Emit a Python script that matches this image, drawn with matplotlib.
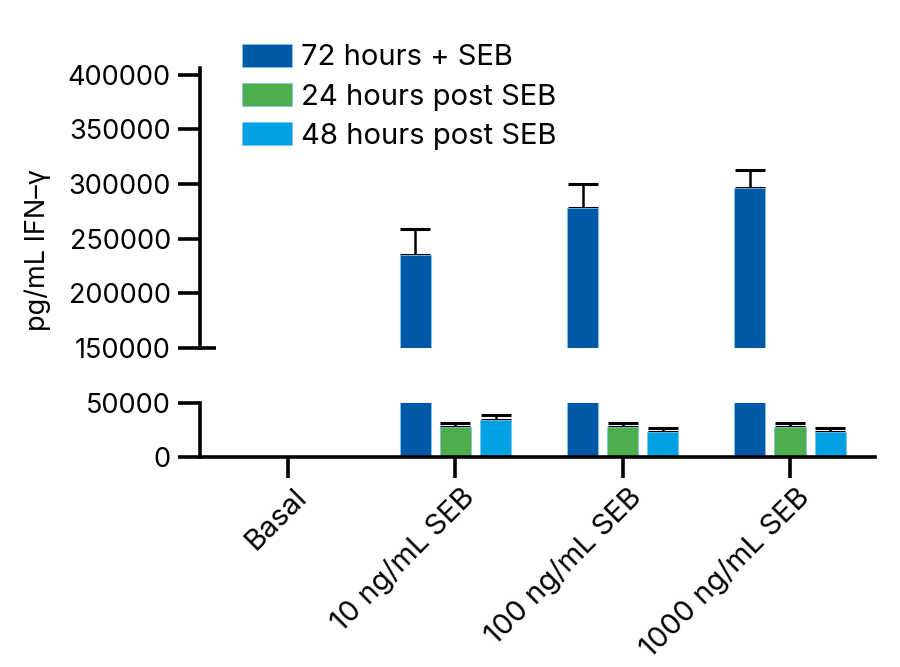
import numpy as np
import matplotlib
matplotlib.use("Agg")
import matplotlib.pyplot as plt
import matplotlib.transforms as mtransforms
from matplotlib.patches import Patch

plt.rcParams['font.family'] = ['Inter', 'DejaVu Sans']

# data
cats = ['Basal', '10 ng/mL SEB', '100 ng/mL SEB', '1000 ng/mL SEB']
h72 = [0, 235000, 278000, 296500]
h72_err = [0, 24000, 22300, 16000]
h24 = [0, 27500, 27500, 27500]
h24_err = [0, 3700, 3700, 3700]
h48 = [0, 34000, 23400, 23400]
h48_err = [0, 4600, 3500, 3500]
series_names = ['72 hours + SEB', '24 hours post SEB', '48 hours post SEB']

c72 = '#0058A6'
c24 = '#4CAE4C'
c48 = '#00A1E2'
edge = '#7FC4EE'

fig = plt.figure(figsize=(9, 6.67), dpi=100)
ax_bot = fig.add_axes([200/900, 1-457/667, 675/900, 54/667])
ax_top = fig.add_axes([200/900, 1-348/667, 675/900, (348-67.7)/667])

x = np.arange(len(cats))
off = 0.24
w = 0.186
lw = 2.6

for ax in (ax_bot, ax_top):
    ax.bar(x - off, h72, w, color=c72, edgecolor=edge, linewidth=0.6, zorder=2)
    ax.bar(x, h24, w, color=c24, edgecolor=edge, linewidth=0.6, zorder=2)
    ax.bar(x + off, h48, w, color=c48, edgecolor=edge, linewidth=0.6, zorder=2)
    for xs, vals, errs in ((x - off, h72, h72_err), (x, h24, h24_err), (x + off, h48, h48_err)):
        ax.errorbar(xs[1:], vals[1:], yerr=[np.zeros(3), errs[1:]], fmt='none',
                    ecolor='black', elinewidth=1.8, capsize=11, capthick=2.2, zorder=1)
    ax.set_xlim(-0.526, 3.508)
    for s in ('top', 'right'):
        ax.spines[s].set_visible(False)
    ax.spines['left'].set_linewidth(lw)
    ax.tick_params(axis='y', length=16, width=lw, labelsize=19.5, pad=5)

# bottom panel
ax_bot.set_ylim(0, 50000)
ax_bot.set_yticks([0, 50000])
ax_bot.spines['bottom'].set_linewidth(lw)
ax_bot.set_xticks(x)
ax_bot.set_xticklabels(cats, rotation=45, ha='right', va='center', rotation_mode='anchor')
ax_bot.tick_params(axis='x', length=15, width=lw, labelsize=21, pad=9)
shift = mtransforms.ScaledTranslation(15/100, -3/100, fig.dpi_scale_trans)
for lab in ax_bot.get_xticklabels():
    lab.set_transform(lab.get_transform() + shift)

# top panel
ax_top.set_ylim(150000, 406500)
ax_top.set_yticks([150000, 200000, 250000, 300000, 350000, 400000])
ax_top.spines['bottom'].set_visible(False)
ax_top.set_xticks([])
# break mark on the 150000 tick
tr = mtransforms.blended_transform_factory(ax_top.transAxes, ax_top.transData)
ax_top.plot([0, 0.024], [150000, 150000], color='black', lw=lw, transform=tr, clip_on=False,
            solid_capstyle='butt')

fig.text(0.042, 1-250/667, 'pg/mL IFN\u2013\u03b3', rotation=90, ha='center', va='center', fontsize=19.5)

handles = [Patch(facecolor=c, edgecolor=edge, linewidth=0.6) for c in (c72, c24, c48)]
fig.legend(handles, series_names, loc='upper left', bbox_to_anchor=(242/900, 1-44/667),
           frameon=False, fontsize=21, handlelength=1.72, handleheight=0.82,
           handletextpad=0.3, labelspacing=0.4, borderpad=0, borderaxespad=0)

fig.savefig('out.png', dpi=100)
